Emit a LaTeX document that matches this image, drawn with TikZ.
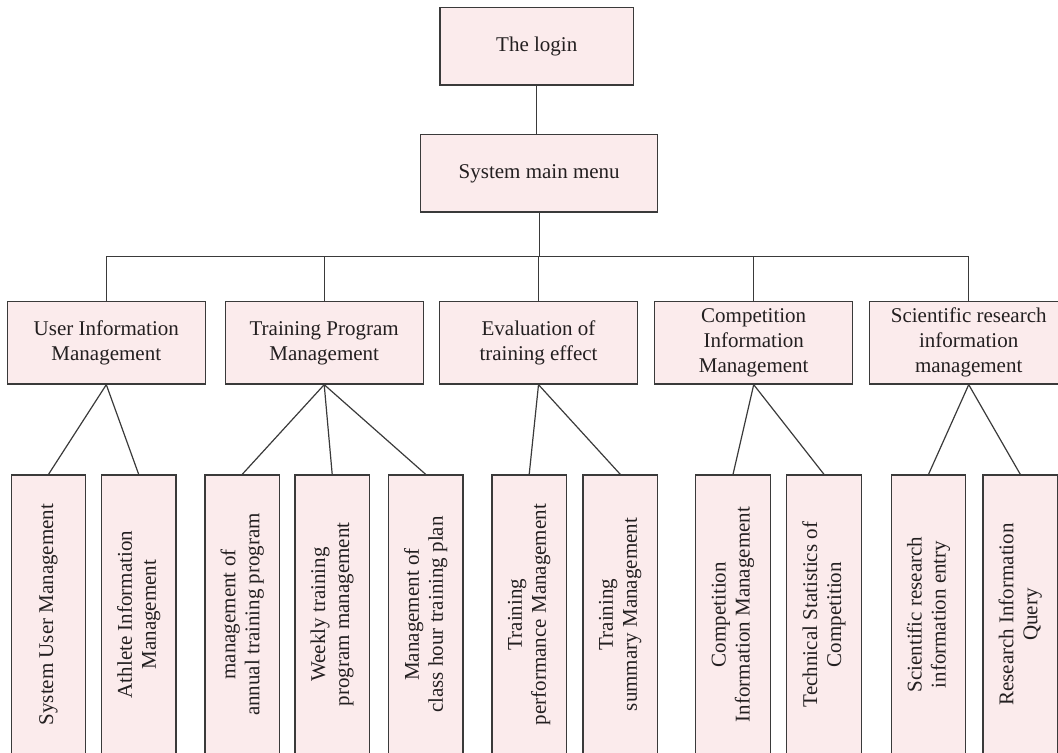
\documentclass[tikz,border=0pt]{standalone}
\usepackage{fontspec}
\setmainfont{Liberation Serif}
\definecolor{boxfill}{HTML}{FBEBEC}
\definecolor{boxline}{HTML}{3A3A3A}
\definecolor{txt}{HTML}{231F20}
\begin{document}
\begin{tikzpicture}[x=0.5pt,y=-0.5pt,
  base/.style={draw=boxline,fill=boxfill,line width=0.65pt,inner sep=0pt,text=txt,
    font=\fontsize{10.5pt}{12.5pt}\selectfont,align=center},
  topbox/.style={base,minimum height=38.8pt},
  midbox/.style={base,minimum width=99pt,minimum height=41.2pt},
  leaf/.style={base,rotate=90,minimum width=139.5pt,minimum height=37.2pt,
    font=\fontsize{10.5pt}{12pt}\selectfont},
  link/.style={draw=boxline,line width=0.6pt}]
\useasboundingbox (0,0) rectangle (1058,752);
\clip (0,0) rectangle (1058,752);
% top
\node[topbox,minimum width=96.7pt] (login) at (536.7,46.2) {The login};
\node[topbox,minimum width=118.5pt] (menu) at (539.2,173.3) {System main menu};
% level 2
\node[midbox] (user)  at (106.3,342.8) {User Information\\Management};
\node[midbox] (train) at (324.2,342.8) {Training Program\\Management};
\node[midbox] (eval)  at (538.5,342.8) {Evaluation of\\training effect};
\node[midbox] (comp)  at (753.7,342.8) {Competition\\Information\\Management};
\node[midbox] (sci)   at (968.7,342.8) {Scientific research\\information\\management};
% level 3
\node[leaf] (sum)    at (48.5,614.5)   {System User Management};
\node[leaf] (aim)    at (138.7,614.5)  {Athlete Information\\Management};
\node[leaf] (annual) at (242.2,614.5)  {management of\\annual training program};
\node[leaf] (weekly) at (332.2,614.5)  {Weekly training\\program management};
\node[leaf] (hour)   at (425.7,614.5)  {Management of\\class hour training plan};
\node[leaf] (perf)   at (529.2,614.5)  {Training\\performance Management};
\node[leaf] (summ)   at (620.3,614.5)  {Training\\summary Management};
\node[leaf] (cinfo)  at (733,614.5)    {Competition\\Information Management};
\node[leaf] (tech)   at (824,614.5)    {Technical Statistics of\\Competition};
\node[leaf] (sentry) at (928.5,614.5)  {Scientific research\\information entry};
\node[leaf] (query)  at (1020.3,614.5) {Research Information\\Query};
% connectors
\coordinate (bus) at (0,256.7);
\draw[link] (login.south) -- (login.south |- menu.north);
\draw[link] (menu.south) -- (menu.south |- bus);
\draw[link] (user.north) -- (user.north |- bus) -| (sci.north);
\draw[link] (train.north) -- (train.north |- bus);
\draw[link] (eval.north) -- (eval.north |- bus);
\draw[link] (comp.north) -- (comp.north |- bus);
\draw[link] (user.south) -- (sum.east);
\draw[link] (user.south) -- (aim.east);
\draw[link] (train.south) -- (annual.east);
\draw[link] (train.south) -- (weekly.east);
\draw[link] (train.south) -- (hour.east);
\draw[link] (eval.south) -- (perf.east);
\draw[link] (eval.south) -- (summ.east);
\draw[link] (comp.south) -- (cinfo.east);
\draw[link] (comp.south) -- (tech.east);
\draw[link] (sci.south) -- (sentry.east);
\draw[link] (sci.south) -- (query.east);
\end{tikzpicture}
\end{document}
